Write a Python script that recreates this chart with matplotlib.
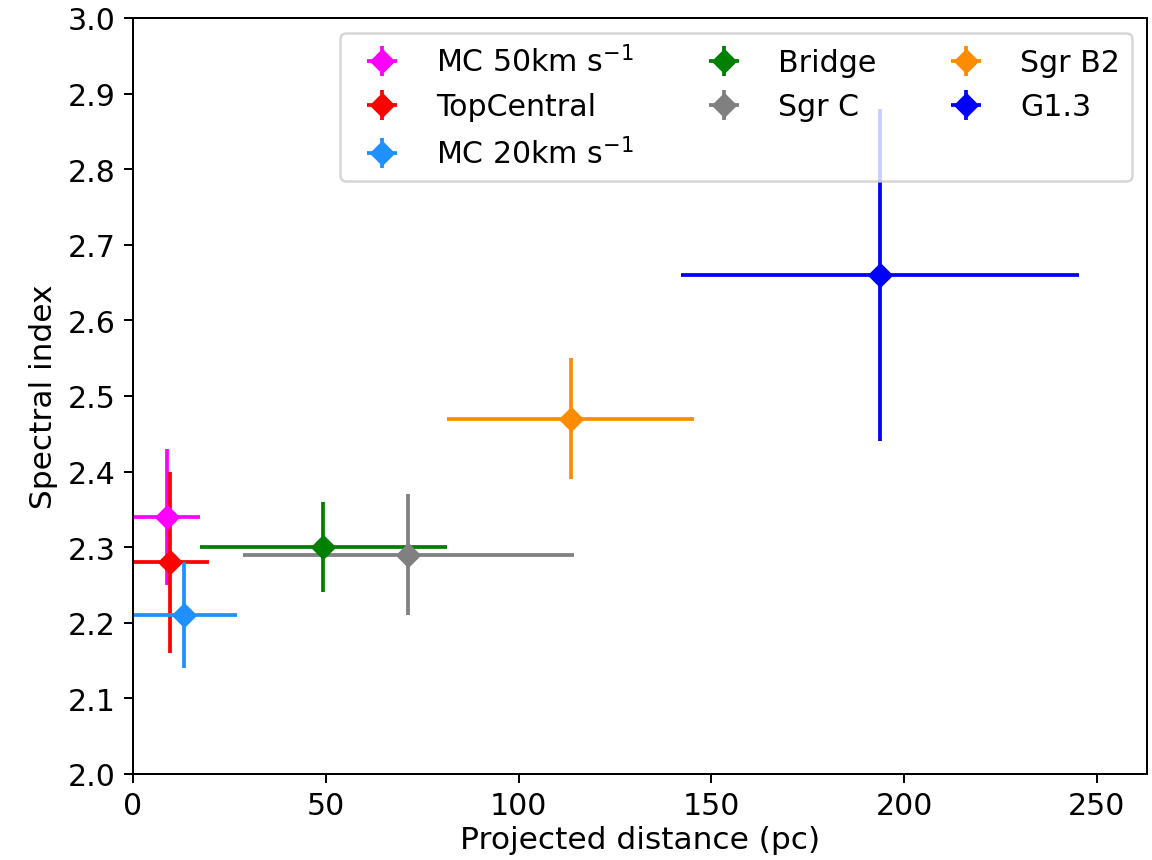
import matplotlib
matplotlib.use('Agg')
import matplotlib.pyplot as plt
from matplotlib.ticker import MultipleLocator

names = ['MC 50km s$^{-1}$', 'TopCentral', 'MC 20km s$^{-1}$', 'Bridge', 'Sgr C', 'Sgr B2', 'G1.3']
colors = ['magenta', 'red', 'dodgerblue', 'green', 'gray', 'darkorange', 'blue']
dist = [8.7, 9.6, 13.3, 49.4, 71.4, 113.5, 193.8]
dist_err = [8.7, 10.0, 13.6, 32.1, 43.0, 32.1, 51.7]
index = [2.34, 2.28, 2.21, 2.30, 2.29, 2.47, 2.66]
index_err = [0.09, 0.12, 0.07, 0.06, 0.08, 0.08, 0.22]

plt.rcParams['font.size'] = 12

fig = plt.figure(figsize=(6.4, 4.783), dpi=180)
ax = fig.add_axes([0.1155, 0.1, 0.88, 0.878])

for i in range(len(names)):
    ax.errorbar(dist[i], index[i], xerr=dist_err[i], yerr=index_err[i],
                fmt='D', color=colors[i], label=names[i])

ax.set_xlim(0, 263)
ax.set_ylim(2.0, 3.0)
ax.yaxis.set_major_locator(MultipleLocator(0.1))
ax.set_xlabel('Projected distance (pc)', fontsize=12.5, labelpad=2)
ax.set_ylabel('Spectral index', fontsize=12.5)
ax.legend(ncol=3, loc='upper right')

fig.savefig('out.png', dpi=180)
